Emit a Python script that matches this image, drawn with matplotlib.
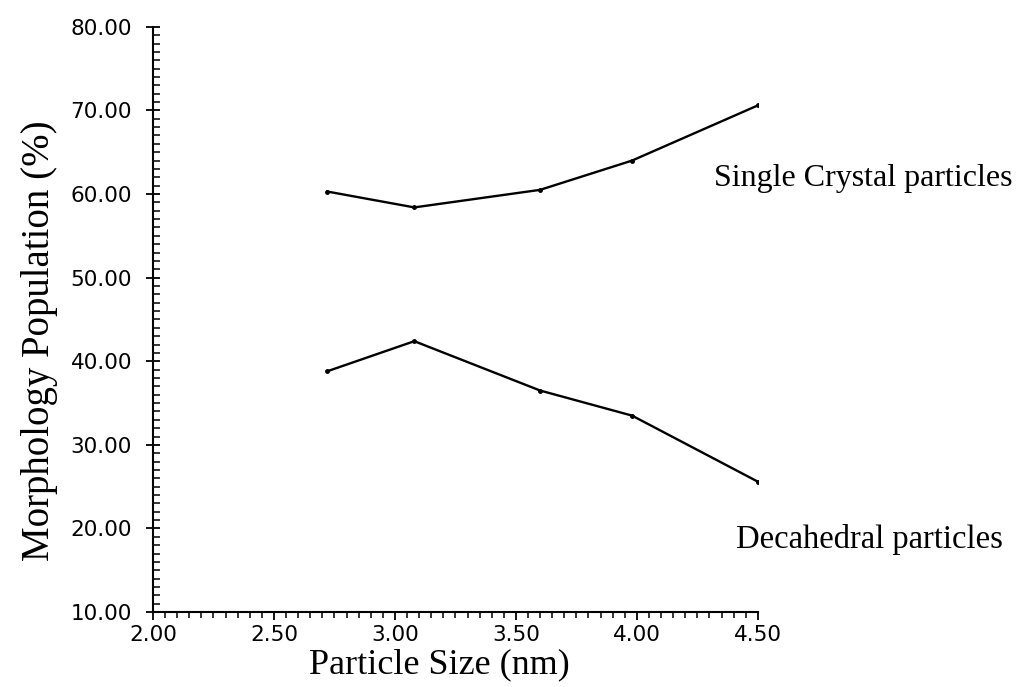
import matplotlib.pyplot as plt
from matplotlib.ticker import MultipleLocator, FormatStrFormatter

# particle size (nm)
size_nm = [2.72, 3.08, 3.60, 3.98, 4.50]
# morphology population (%)
single_crystal = [60.3, 58.4, 60.5, 64.0, 70.6]
decahedral = [38.8, 42.4, 36.5, 33.5, 25.6]

label_single = "Single Crystal particles"
label_deca = "Decahedral particles"

fig = plt.figure(figsize=(10.2, 6.87), dpi=100)
ax = fig.add_axes([0.150, 0.109, 0.593, 0.852])

ax.plot(size_nm, single_crystal, color="black", lw=1.7, marker="o", ms=2.5)
ax.plot(size_nm, decahedral, color="black", lw=1.7, marker="o", ms=2.5)

ax.set_xlim(2.0, 4.5)
ax.set_ylim(10.0, 80.0)

ax.xaxis.set_major_locator(MultipleLocator(0.5))
ax.xaxis.set_minor_locator(MultipleLocator(0.05))
ax.yaxis.set_major_locator(MultipleLocator(10))
ax.yaxis.set_minor_locator(MultipleLocator(1))
ax.xaxis.set_major_formatter(FormatStrFormatter("%.2f"))
ax.yaxis.set_major_formatter(FormatStrFormatter("%.2f"))

for side in ("top", "right"):
    ax.spines[side].set_visible(False)
for side in ("left", "bottom"):
    ax.spines[side].set_linewidth(1.5)

ax.tick_params(axis="y", which="major", direction="inout", length=10, width=1.3,
               labelsize=15.5, pad=10)
ax.tick_params(axis="y", which="minor", direction="in", length=5, width=1.1)
ax.tick_params(axis="x", which="major", direction="out", length=6, width=1.3,
               labelsize=15.5, pad=3)
ax.tick_params(axis="x", which="minor", direction="out", length=4, width=1.1)

ax.set_xlabel("Particle Size (nm)", family="Liberation Serif", fontsize=26)
ax.xaxis.set_label_coords(0.474, -0.062)
ax.set_ylabel("Morphology Population (%)", family="Liberation Serif", fontsize=28)
ax.yaxis.set_label_coords(-0.157, 0.463)

ax.text(4.32, 61.8, label_single, family="Liberation Serif", fontsize=23,
        va="center", ha="left", clip_on=False)
ax.text(4.41, 18.7, label_deca, family="Liberation Serif", fontsize=23.5,
        va="center", ha="left", clip_on=False)

fig.savefig("out.png", dpi=100)
